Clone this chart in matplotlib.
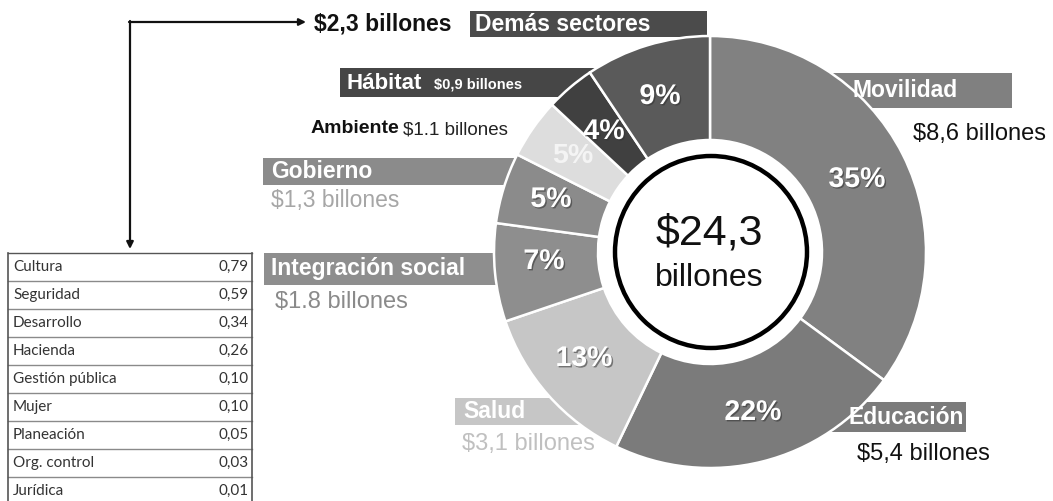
import matplotlib
matplotlib.use("Agg")
import matplotlib.pyplot as plt
import matplotlib.patheffects as pe
from matplotlib.patches import Rectangle, Circle

# ---------------- data ----------------
sectors = ["Movilidad", "Educación", "Salud", "Integración social",
           "Gobierno", "Ambiente", "Hábitat", "Demás sectores"]
billones = [8.6, 5.4, 3.1, 1.8, 1.3, 1.1, 0.9, 2.3]
pct_labels = ["35%", "22%", "13%", "7%", "5%", "5%", "4%", "9%"]
amount_labels = ["$8,6 billones", "$5,4 billones", "$3,1 billones", "$1.8 billones",
                 "$1,3 billones", "$1.1 billones", "$0,9 billones", "$2,3 billones"]
total_label = "$24,3"
total_unit = "billones"

other_names = ["Cultura", "Seguridad", "Desarrollo", "Hacienda", "Gestión pública",
               "Mujer", "Planeación", "Org. control", "Jurídica"]
other_values = ["0,79", "0,59", "0,34", "0,26", "0,10", "0,10", "0,05", "0,03", "0,01"]

# ---------------- style ----------------
wedge_colors = ["#818181", "#7b7b7b", "#c6c6c6", "#8e8e8e",
                "#8b8b8b", "#dddddd", "#404040", "#5a5a5a"]
FONT = "Liberation Sans"

W, H = 1053, 501
fig = plt.figure(figsize=(W / 100, H / 100), dpi=100)
ax = fig.add_axes([0, 0, 1, 1])

CX, CY = 710, 252
R_OUT, R_IN = 216, 112

# label boxes (behind donut)
boxes = [  # x0, y0, x1, y1, color
    (800, 73, 1012, 108, "#808080"),     # Movilidad
    (780, 402, 966, 432, "#7b7b7b"),     # Educación
    (455, 398, 580, 425, "#c6c6c6"),     # Salud
    (264, 253, 520, 285, "#8e8e8e"),     # Integración
    (263, 158, 530, 185, "#8b8b8b"),     # Gobierno
    (340, 68, 600, 97, "#464646"),       # Hábitat
    (470, 11, 707, 37, "#4b4b4b"),       # Demás sectores
]
for x0, y0, x1, y1, c in boxes:
    ax.add_patch(Rectangle((x0, y0), x1 - x0, y1 - y0, facecolor=c,
                           edgecolor="none", zorder=1))

wedges, _ = ax.pie(billones, colors=wedge_colors, startangle=-90, counterclock=True,
                   center=(CX, CY), radius=R_OUT,
                   wedgeprops=dict(width=R_OUT - R_IN, edgecolor="white",
                                   linewidth=1.8, zorder=2))

# center circle
ax.add_patch(Circle((CX + 1, CY), 96, facecolor="white", edgecolor="black",
                    linewidth=3.2, zorder=3))
ax.text(CX - 1, 233, total_label, fontsize=31, family=FONT, ha="center", va="center",
        color="#111111", zorder=4)
ax.text(CX - 1, 278, total_unit, fontsize=23, family=FONT, ha="center", va="center",
        color="#111111", zorder=4)

# percentage labels
shadow = [pe.withSimplePatchShadow(offset=(1, -1), shadow_rgbFace="#303030", alpha=0.55)]
pct_pos = [(857, 180), (753, 413), (584, 359), (544, 262),
           (551, 200), (573, 156), (604, 132), (660, 97)]
pct_col = ["white"] * 5 + ["#f4f4f4", "white", "white"]
for i, ((x, y), t, c) in enumerate(zip(pct_pos, pct_labels, pct_col)):
    ax.text(x, y, t, fontsize=20.5, fontweight="bold", family=FONT, color=c,
            ha="center", va="center", zorder=4,
            path_effects=None if i == 5 else shadow)


def txt(x, y, t, size=16.5, color="white", weight="bold"):
    ax.text(x, y, t, fontsize=size, fontweight=weight, family=FONT, color=color,
            ha="left", va="center", zorder=4)


# Movilidad
txt(853, 90, sectors[0])
txt(913, 134, amount_labels[0], size=17, color="#111111", weight="normal")
# Educación
txt(848, 418, sectors[1])
txt(857, 454, amount_labels[1], size=17, color="#111111", weight="normal")
# Salud
txt(463, 412, sectors[2])
txt(462, 444, amount_labels[2], size=17, color="#c0c0c0", weight="normal")
# Integración social
txt(271, 269, sectors[3])
txt(275, 302, amount_labels[3], size=17, color="#8a8a8a", weight="normal")
# Gobierno
txt(271, 172, sectors[4])
txt(271, 200, amount_labels[4], size=16.5, color="#a6a6a6", weight="normal")
# Ambiente
txt(311, 128, sectors[5], size=14, color="#111111")
txt(403, 130, amount_labels[5], size=13.5, color="#222222", weight="normal")
# Hábitat
txt(347, 83, sectors[6], size=16)
txt(434, 84, amount_labels[6], size=10.5, color="white")
# Demás sectores
txt(475, 24, sectors[7], size=16.5)
txt(314, 24, amount_labels[7], size=16.5, color="#111111")

# connector arrows from the table to "Demás sectores"
ax.annotate("", xy=(306, 22), xytext=(129, 22),
            arrowprops=dict(arrowstyle="-|>", color="#111111", lw=1.6,
                            mutation_scale=10, shrinkA=0, shrinkB=0))
ax.annotate("", xy=(130, 249), xytext=(130, 21),
            arrowprops=dict(arrowstyle="-|>", color="#111111", lw=1.6,
                            mutation_scale=10, shrinkA=0, shrinkB=0))

# table of other sectors
TX0, TX1, TY0, ROW = 8, 252, 253, 28
for i, (nm, v) in enumerate(zip(other_names, other_values)):
    y = TY0 + i * ROW
    ax.plot([TX0, TX1], [y, y], color="#8a8a8a" if i else "#555555", lw=1, zorder=2)
    ax.text(TX0 + 5, y + ROW / 2, nm, fontsize=11, family="Lato", color="#333333",
            ha="left", va="center", zorder=3)
    ax.text(TX1 - 3, y + ROW / 2, v, fontsize=11, family="Lato", color="#333333",
            ha="right", va="center", zorder=3)
ax.plot([TX0, TX0], [TY0, H], color="#555555", lw=1.2, zorder=2)
ax.plot([TX1, TX1], [TY0, H], color="#555555", lw=1.2, zorder=2)

ax.set_xlim(0, W)
ax.set_ylim(H, 0)
ax.set_aspect("equal")
ax.axis("off")
fig.savefig("out.png", dpi=100, facecolor="white")
